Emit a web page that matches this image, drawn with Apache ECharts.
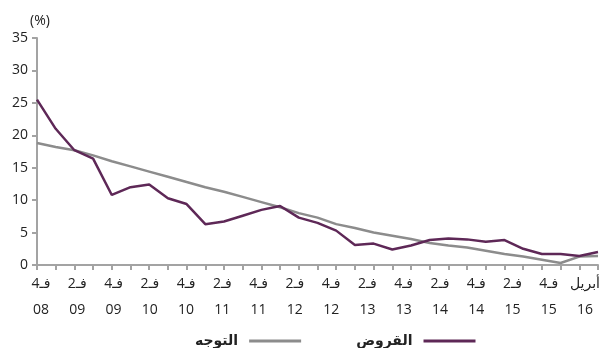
<!DOCTYPE html>
<html>
<head>
<meta charset="utf-8">
<script src="https://cdn.jsdelivr.net/npm/echarts@6/dist/echarts.min.js"></script>
<style>
  html, body { margin: 0; padding: 0; background: #fff; }
  #chart { width: 599px; height: 348px; }
</style>
</head>
<body>
<div id="chart"></div>
<script>
// quarterly categories, Q4 2008 .. April 2016 (labels shown on every second one)
const categories = [
  'فـ4\n08', 'فـ1\n09', 'فـ2\n09', 'فـ3\n09', 'فـ4\n09',
  'فـ1\n10', 'فـ2\n10', 'فـ3\n10', 'فـ4\n10',
  'فـ1\n11', 'فـ2\n11', 'فـ3\n11', 'فـ4\n11',
  'فـ1\n12', 'فـ2\n12', 'فـ3\n12', 'فـ4\n12',
  'فـ1\n13', 'فـ2\n13', 'فـ3\n13', 'فـ4\n13',
  'فـ1\n14', 'فـ2\n14', 'فـ3\n14', 'فـ4\n14',
  'فـ1\n15', 'فـ2\n15', 'فـ3\n15', 'فـ4\n15',
  'فـ1\n16', 'أبريل\n16'
]
const loans = [25.5, 21.0, 17.7, 16.4, 10.8, 12.0, 12.4, 10.3, 9.4, 6.3, 6.7, 7.6, 8.5, 9.1, 7.3, 6.5, 5.3, 3.1, 3.3, 2.4, 3.0, 3.85, 4.1, 3.95, 3.6, 3.85, 2.5, 1.7, 1.7, 1.4, 2.0]
const trend = [18.8, 18.2, 17.7, 16.9, 16.0, 15.2, 14.4, 13.6, 12.8, 12.0, 11.3, 10.5, 9.7, 8.9, 8.0, 7.3, 6.3, 5.7, 5.0, 4.5, 4.0, 3.4, 3.0, 2.7, 2.2, 1.7, 1.3, 0.8, 0.3, 1.3, 1.4]
// half-year tick labels (every second quarter)
const tickLabels = categories.filter((c, i) => i % 2 === 0)
const yTicks = { min: 0, max: 35, step: 5 }

const font = "'Open Sans', 'DejaVu Sans', sans-serif"
const axisGrey = '#a3a3a3'

const option = {
  animation: false,
  backgroundColor: '#fff',
  textStyle: { fontFamily: font },
  grid: [
    { left: 37, right: 1, top: 38, bottom: 83, outerBoundsMode: 'none' },
    // label strip: in the original the labels are spread a bit tighter than the ticks
    { left: 41, right: 14, top: 38, bottom: 83, outerBoundsMode: 'none' }
  ],
  legend: {
    data: ['التوجه', 'القروض'],
    left: 190,
    top: 329,
    align: 'right',
    icon: 'rect',
    itemWidth: 52,
    itemHeight: 3,
    itemGap: 55,
    textStyle: { fontSize: 14, color: '#222', fontWeight: 'bold', padding: [0, 6, 0, 0] }
  },
  xAxis: [
    {
      type: 'category',
      gridIndex: 0,
      data: categories,
      boundaryGap: false,
      axisLine: { lineStyle: { color: axisGrey, width: 2 } },
      axisTick: { interval: 0, length: 5, lineStyle: { color: axisGrey, width: 2 } },
      axisLabel: { show: false },
      splitLine: { show: false }
    },
    {
      type: 'category',
      gridIndex: 1,
      data: tickLabels,
      boundaryGap: false,
      axisLine: { show: false },
      axisTick: { show: false },
      axisLabel: {
        interval: 0,
        margin: 6,
        fontSize: 14,
        lineHeight: 26,
        color: '#222',
        showMinLabel: true,
        showMaxLabel: true
      },
      splitLine: { show: false }
    }
  ],
  yAxis: [
    {
      type: 'value',
      gridIndex: 0,
      min: yTicks.min,
      max: yTicks.max,
      interval: yTicks.step,
      name: '(%)',
      nameLocation: 'end',
      nameGap: 10,
      nameTextStyle: { fontSize: 14, color: '#222', padding: [0, 0, 0, 6] },
      axisLine: { show: true, lineStyle: { color: axisGrey, width: 2 } },
      axisTick: { show: true, length: 5, lineStyle: { color: axisGrey, width: 2 } },
      axisLabel: { margin: 9, fontSize: 14, color: '#222' },
      splitLine: { show: false }
    },
    {
      type: 'value',
      gridIndex: 1,
      min: 0,
      max: 1,
      show: false
    }
  ],
  series: [
    {
      name: 'التوجه',
      type: 'line',
      xAxisIndex: 0,
      yAxisIndex: 0,
      data: trend,
      symbol: 'none',
      color: '#8c8c8c',
      lineStyle: { width: 2.5, color: '#8c8c8c' }
    },
    {
      name: 'القروض',
      type: 'line',
      xAxisIndex: 0,
      yAxisIndex: 0,
      data: loans,
      symbol: 'none',
      color: '#5e2857',
      lineStyle: { width: 2.5, color: '#5e2857' }
    }
  ]
}

echarts.init(document.getElementById('chart')).setOption(option)
</script>
</body>
</html>
